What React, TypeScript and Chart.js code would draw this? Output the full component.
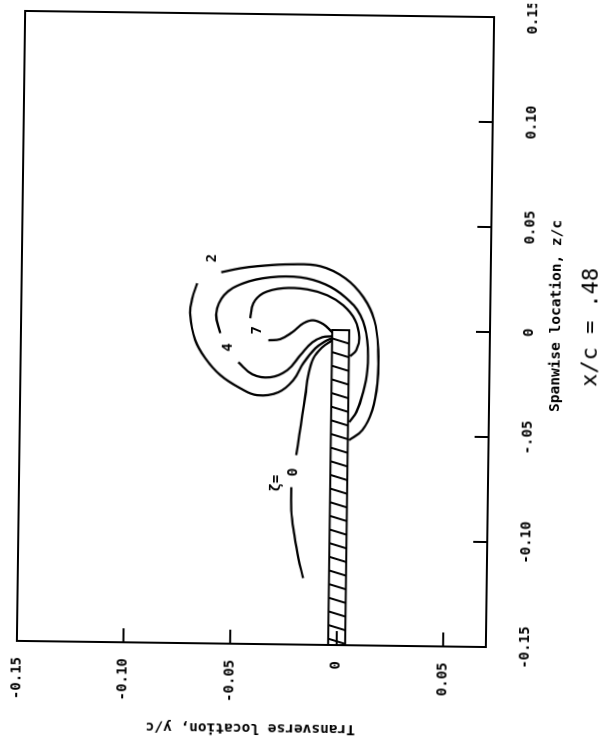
import React, { useEffect, useRef } from "react";
import { Chart, registerables } from "chart.js";

Chart.register(...registerables);

// ---- axes (x = spanwise z/c, y = transverse y/c) ----
const zTicks = [-0.15, -0.1, -0.05, 0, 0.05, 0.1, 0.15];
const zTickLabels = ["-0.15", "-0.10", "-.05", "0", "0.05", "0.10", "0.15"];
const yTicks = [-0.15, -0.1, -0.05, 0, 0.05];
const yTickLabels = ["-0.15", "-0.10", "-0.05", "0", "0.05"];
const zMin = -0.15;
const zMax = 0.15;
const yMin = -0.15;
const yMax = 0.07;

// ---- contour pieces, points as [y/c, z/c] ----
const zeta2Upper: [number, number][] = [
  [-0.0564, 0.0268], [-0.0475, 0.0288], [-0.0396, 0.0299], [-0.0241, 0.031],
  [-0.01, 0.0303], [0.0018, 0.0247], [0.0104, 0.0158], [0.0157, 0.0049],
  [0.0177, -0.0094], [0.0175, -0.0251], [0.0153, -0.0379], [0.0107, -0.0475],
  [0.0045, -0.0524],
];
const zeta2Lower: [number, number][] = [
  [-0.0676, 0.0214], [-0.0698, 0.0142], [-0.0707, 0.0061], [-0.0682, -0.0057],
  [-0.0634, -0.0142], [-0.0562, -0.0222], [-0.0468, -0.0283], [-0.0388, -0.0315],
  [-0.0289, -0.03], [-0.022, -0.0242], [-0.0174, -0.016], [-0.0118, -0.0088],
  [-0.0072, -0.0054], [-0.004, -0.0039],
];
const zeta4Upper: [number, number][] = [
  [-0.0565, -0.0022], [-0.0585, 0.0072], [-0.0549, 0.0159], [-0.046, 0.0217],
  [-0.0334, 0.0247], [-0.0193, 0.0249], [-0.0075, 0.0217], [0.0019, 0.0157],
  [0.0091, 0.0072], [0.0125, -0.0047], [0.0127, -0.0189], [0.0105, -0.0309],
  [0.0078, -0.039], [0.0045, -0.0438],
];
const zeta4Lower: [number, number][] = [
  [-0.0479, -0.0159], [-0.0412, -0.0216], [-0.0328, -0.0229], [-0.0248, -0.0194],
  [-0.0188, -0.0122], [-0.0133, -0.006], [-0.0086, -0.0035], [-0.004, -0.003],
];
const zeta7Upper: [number, number][] = [
  [-0.0425, 0.0051], [-0.0412, 0.0122], [-0.0366, 0.0171], [-0.0272, 0.0196],
  [-0.016, 0.0192], [-0.0065, 0.0165], [0.001, 0.0118], [0.0067, 0.0048],
  [0.0087, -0.0033], [0.0074, -0.0095], [0.0045, -0.0124],
];
const zeta7Lower: [number, number][] = [
  [-0.0339, -0.0053], [-0.0283, -0.0047], [-0.0227, -0.0013], [-0.0176, 0.003],
  [-0.013, 0.0045], [-0.0082, 0.0027], [-0.004, -0.0011],
];
const zeta0Upper: [number, number][] = [
  [-0.0201, -0.0598], [-0.0188, -0.0503], [-0.0175, -0.0408], [-0.0162, -0.0312],
  [-0.015, -0.0217], [-0.0127, -0.0136], [-0.0086, -0.0083], [-0.004, -0.0049],
];
const zeta0Lower: [number, number][] = [
  [-0.0222, -0.0751], [-0.0221, -0.0861], [-0.0205, -0.0979], [-0.0185, -0.1089],
  [-0.0161, -0.1183],
];

// ---- contour labels ----
const labelTexts = ["2", "4", "7", "ζ=", "0"];
const labelY = [-0.0607, -0.0526, -0.0392, -0.0293, -0.0214];
const labelZ = [0.0334, -0.0089, -0.0006, -0.0733, -0.068];

// ---- plate (tip) ----
const plateY = [-0.004, 0.004];
const plateZ = [-0.15, 0];
const hatchStart = -0.004;
const hatchPitch = 0.0065;
const hatchSlant = 0.0024;

const FONT = "'DejaVu Sans Mono', monospace";

const toXY = (pts: [number, number][]) => pts.map(([y, z]) => ({ x: z, y }));

const decorPlugin = {
  id: "decor",
  afterDatasetsDraw(chart: any) {
    const { ctx, chartArea: a, scales } = chart;
    const xs = scales.x;
    const ys = scales.y;
    ctx.save();
    ctx.strokeStyle = "#000";
    ctx.fillStyle = "#000";
    // frame
    ctx.lineWidth = 2;
    ctx.strokeRect(a.left, a.top, a.right - a.left, a.bottom - a.top);
    // inward ticks
    const tl = 14;
    ctx.beginPath();
    zTicks.forEach((v) => {
      const px = xs.getPixelForValue(v);
      ctx.moveTo(px, a.bottom);
      ctx.lineTo(px, a.bottom - tl);
    });
    yTicks.forEach((v) => {
      const py = ys.getPixelForValue(v);
      ctx.moveTo(a.left, py);
      ctx.lineTo(a.left + tl, py);
    });
    ctx.stroke();
    // plate hatching
    const pl = xs.getPixelForValue(plateZ[0]);
    const pr = xs.getPixelForValue(plateZ[1]);
    const pt = ys.getPixelForValue(plateY[0]);
    const pb = ys.getPixelForValue(plateY[1]);
    ctx.save();
    ctx.beginPath();
    ctx.rect(pl, pt, pr - pl, pb - pt);
    ctx.clip();
    ctx.lineWidth = 2;
    ctx.beginPath();
    for (let z = hatchStart; z - hatchSlant > plateZ[0] - hatchPitch; z -= hatchPitch) {
      ctx.moveTo(xs.getPixelForValue(z), pt);
      ctx.lineTo(xs.getPixelForValue(z - hatchSlant), pb);
    }
    ctx.stroke();
    ctx.restore();
    // contour labels
    ctx.font = `bold 14px ${FONT}`;
    ctx.textAlign = "center";
    ctx.textBaseline = "middle";
    labelTexts.forEach((t, i) => {
      ctx.fillText(t, xs.getPixelForValue(labelZ[i]), ys.getPixelForValue(labelY[i]));
    });
    // x-axis titles
    const cx = (a.left + a.right) / 2;
    ctx.font = `bold 14.5px ${FONT}`;
    ctx.fillText("Spanwise location, z/c", cx + 17, a.bottom + 66);
    ctx.font = `22px ${FONT}`;
    ctx.fillText("x/c = .48", cx + 6, a.bottom + 101);
    ctx.restore();
  },
};

export default function App() {
  const ref = useRef<HTMLCanvasElement | null>(null);
  useEffect(() => {
    if (!ref.current) return;
    const line = (pts: [number, number][], tension = 0.4) => ({
      data: toXY(pts),
      showLine: true,
      pointRadius: 0,
      borderColor: "#000",
      borderWidth: 2.3,
      tension,
      fill: false,
    });
    const plate: [number, number][] = [
      [plateY[0], plateZ[0]],
      [plateY[0], plateZ[1]],
      [plateY[1], plateZ[1]],
      [plateY[1], plateZ[0]],
    ];
    const chart = new Chart(ref.current, {
      type: "scatter",
      data: {
        datasets: [
          line(zeta2Upper),
          line(zeta2Lower),
          line(zeta4Upper),
          line(zeta4Lower),
          line(zeta7Upper),
          line(zeta7Lower),
          line(zeta0Upper),
          line(zeta0Lower),
          { ...line(plate, 0), borderWidth: 2 },
        ],
      },
      options: {
        animation: false,
        responsive: false,
        devicePixelRatio: 1,
        layout: { padding: { left: 0, right: 14, top: 21, bottom: 0 } },
        plugins: { legend: { display: false }, tooltip: { enabled: false } },
        scales: {
          x: {
            type: "linear",
            position: "bottom",
            min: zMin,
            max: zMax,
            grid: { display: false },
            border: { display: false },
            afterBuildTicks: (s: any) => {
              s.ticks = zTicks.map((v) => ({ value: v }));
            },
            afterFit: (s: any) => {
              s.height = 120;
              s.paddingLeft = 0;
              s.paddingRight = 0;
            },
            ticks: {
              padding: 23,
              color: "#000",
              maxRotation: 0,
              minRotation: 0,
              autoSkip: false,
              font: { family: FONT, size: 14, weight: "bold" },
              callback: (_v: any, i: number) => zTickLabels[i],
            },
          },
          y: {
            type: "linear",
            position: "left",
            reverse: true,
            min: yMin,
            max: yMax,
            grid: { display: false },
            border: { display: false },
            afterBuildTicks: (s: any) => {
              s.ticks = yTicks.map((v) => ({ value: v }));
            },
            afterFit: (s: any) => {
              s.width = 98;
              s.paddingTop = 0;
              s.paddingBottom = 0;
            },
            title: {
              display: true,
              text: "Transverse location, y/c",
              color: "#000",
              font: { family: FONT, size: 14.5, weight: "bold" },
              padding: { top: 6, bottom: 0 },
            },
            ticks: {
              padding: 8,
              color: "#000",
              autoSkip: false,
              font: { family: FONT, size: 14, weight: "bold" },
              callback: (_v: any, i: number) => yTickLabels[i],
            },
          },
        },
      },
      plugins: [decorPlugin],
    });
    return () => chart.destroy();
  }, []);

  return (
    <div style={{ position: "fixed", inset: 0, overflow: "hidden", background: "#fff" }}>
      <div
        style={{
          position: "absolute",
          left: 0,
          top: 0,
          width: 742,
          height: 610,
          transformOrigin: "0 0",
          transform:
            "translate(256px,329px) rotate(0.75deg) translate(-256px,-329px) translate(0px,742px) rotate(-90deg)",
        }}
      >
        <canvas ref={ref} width={742} height={610} style={{ display: "block" }} />
      </div>
    </div>
  );
}
